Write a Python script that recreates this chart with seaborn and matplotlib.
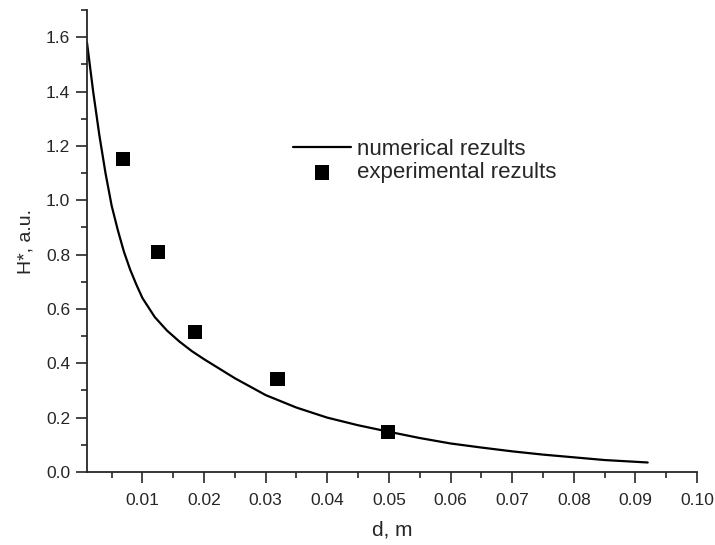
import seaborn as sns
import pandas as pd
import numpy as np
import matplotlib.pyplot as plt
from matplotlib.ticker import MultipleLocator

# numerical curve
num_d = [0.001, 0.002, 0.003, 0.004, 0.005, 0.006, 0.007, 0.008, 0.009, 0.010,
         0.012, 0.014, 0.016, 0.018, 0.020, 0.025, 0.030, 0.035, 0.040, 0.045,
         0.050, 0.055, 0.060, 0.065, 0.070, 0.075, 0.080, 0.085, 0.092]
num_h = [1.58, 1.40, 1.24, 1.10, 0.98, 0.89, 0.81, 0.745, 0.69, 0.64,
         0.57, 0.52, 0.48, 0.445, 0.415, 0.345, 0.283, 0.237, 0.20, 0.172,
         0.148, 0.125, 0.105, 0.09, 0.076, 0.064, 0.054, 0.044, 0.035]

# experimental points
exp_d = [0.0069, 0.0125, 0.0185, 0.0319, 0.0499]
exp_h = [1.153, 0.81, 0.514, 0.341, 0.148]

sns.set_style('ticks')
plt.rcParams['font.family'] = ['Liberation Sans', 'DejaVu Sans']

fig = plt.figure(figsize=(7.15, 5.45), dpi=100)
ax = fig.add_axes([87 / 715, 1 - 472 / 545, 610 / 715, 462 / 545])

num_df = pd.DataFrame({'d': num_d, 'h': num_h})
exp_df = pd.DataFrame({'d': exp_d, 'h': exp_h})

sns.lineplot(data=num_df, x='d', y='h', ax=ax, color='black', linewidth=1.6,
             label='numerical rezults')
sns.scatterplot(data=exp_df, x='d', y='h', ax=ax, color='black', marker='s',
                s=105, edgecolor='none', label='experimental rezults')

ax.set_xlim(0.001, 0.10)
ax.set_ylim(0, 1.7)
ax.xaxis.set_minor_locator(MultipleLocator(0.005))
ax.yaxis.set_minor_locator(MultipleLocator(0.1))
xt = np.arange(0.01, 0.1001, 0.01)
yt = np.arange(0, 1.61, 0.2)
ax.set_xticks(xt)
ax.set_xticklabels(['%.2f' % v for v in xt])
ax.set_yticks(yt)
ax.set_yticklabels(['%.1f' % v for v in yt])

ax.tick_params(which='major', direction='out', length=8, width=1.2, labelsize=12.5, pad=4)
ax.tick_params(which='minor', direction='out', length=4.5, width=1.2)
ax.tick_params(axis='x', which='major', pad=7)
sns.despine(ax=ax)
for s in ['left', 'bottom']:
    ax.spines[s].set_linewidth(1.3)

ax.set_xlabel('d, m', fontsize=15, labelpad=9)
ax.set_ylabel('H*, a.u.', fontsize=14, labelpad=8)

ax.legend(loc='upper left', bbox_to_anchor=(293 / 715, 1 - 139 / 545),
          bbox_transform=fig.transFigure, frameon=False, fontsize=16,
          handlelength=2.6, handletextpad=0.3, labelspacing=0.1,
          borderpad=0, borderaxespad=0)

fig.savefig('out.png', dpi=100)
